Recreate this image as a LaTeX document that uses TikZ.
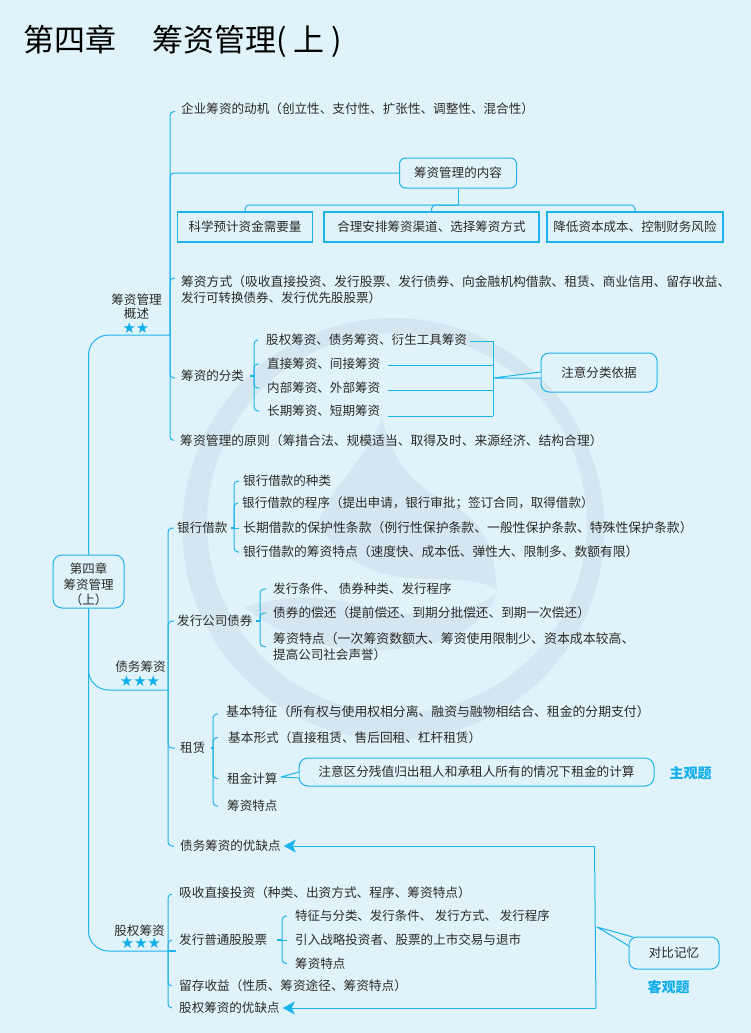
\documentclass[tikz,border=0pt]{standalone}
\usepackage{fontspec}
\setmainfont{Noto Sans CJK SC}
\newfontfamily\symf{DejaVu Sans}
\usetikzlibrary{arrows.meta,calc}
\definecolor{bg}{HTML}{E0F3FB}
\definecolor{wmk}{HTML}{D4E7F0}
\definecolor{wire}{HTML}{1FB3EC}
\definecolor{ink}{HTML}{2A2A2A}
\definecolor{hl}{HTML}{12AEEB}
\tikzset{
  x=1pt,y=-1pt,
  one/.style={text height=12pt,text depth=2.4pt},
  lab/.style={anchor=west,inner xsep=#1pt,inner ysep=0pt,xshift=-#1pt,text=ink,align=left,
    font=\fontsize{12.55}{16}\selectfont},
  lab/.default=3,
  slab/.style={lab=#1,one},
  wider/.style={font=\fontsize{#1}{16}\selectfont},
  glab/.style={inner sep=0pt,text=ink,align=center,font=\fontsize{12.6}{14}\selectfont},
  stars/.style={inner sep=0pt,text=hl,font=\symf\fontsize{15}{15}\selectfont},
  wirel/.style={draw=wire,line width=1pt,line join=round},
  tickl/.style={wirel,rounded corners=4pt},
  rbox/.style={draw=wire,line width=1pt,rounded corners=#1pt,inner sep=0pt,text=ink,align=center,
    font=\fontsize{12.55}{15.5}\selectfont},
  rbox/.default=6,
  sbox/.style={draw=wire,line width=1.1pt,inner sep=0pt,text=ink,one,font=\fontsize{12.55}{16}\selectfont},
  tagl/.style={inner sep=0pt,text=hl,one,font=\bfseries\fontsize{14}{14}\selectfont},
  arrowl/.style={wirel,-{Stealth[length=12pt,width=13pt,inset=3pt]}}
}
\begin{document}
\begin{tikzpicture}
\useasboundingbox (0,0) rectangle (751,1033);
\fill[bg] (0,0) rectangle (751,1033);
% watermark
\fill[wmk,even odd rule] (393.5,529) circle (211pt) (397,523) circle (190pt);
\fill[wmk] (382,418) .. controls (365,460) and (330,490) .. (318,522)
  .. controls (335,555) and (365,572) .. (400,577)
  .. controls (440,582) and (475,575) .. (497,590)
  .. controls (495,560) and (490,530) .. (460,510)
  .. controls (420,490) and (395,470) .. (382,418) -- cycle;
\fill[wmk] (245,607) .. controls (300,590) and (340,600) .. (380,610)
  .. controls (430,620) and (480,610) .. (497,592)
  .. controls (480,640) and (420,650) .. (370,650)
  .. controls (320,650) and (270,630) .. (245,607) -- cycle;
% title
\node[anchor=west,inner sep=0pt,text=black,text height=27pt,text depth=3.4pt,font=\fontsize{31}{31}\selectfont] (title) at (23,40) {第四章\hspace{36pt}筹资管理( 上 )};
% root
\node[rbox=9,minimum width=71pt,minimum height=53pt,font=\fontsize{12.5}{15.5}\selectfont] (root) at (88.5,581.5) {\rule{0pt}{17pt}第四章\\筹资管理\\（上）};
% junctions
\coordinate (jA) at (170,335);
\coordinate (jB) at (168,690);
\coordinate (jC) at (168,951);
\coordinate (jCend) at (176,951);
% group labels
\node[glab] (gA) at (136.5,307) {筹资管理\\概述};
\node[stars] (sA) at (136,328) {★★};
\node[glab,one] (gB) at (140.5,667) {债务筹资};
\node[stars] (sB) at (140,681) {★★★};
\node[glab,one] (gC) at (139.5,931) {股权筹资};
\node[stars] (sC) at (141,943) {★★★};
% trunk
\draw[wirel,rounded corners=20pt] (root.north) |- (jA);
\draw[wirel,rounded corners=20pt] (root.south) |- (jB);
\draw[wirel,rounded corners=20pt] (root.south) |- (jCend);
\draw[wire,line width=1.8pt] (jC) -- (jCend);
% section A
\node[slab=6,wider=12.6] (a1) at (181,108.5) {企业筹资的动机（创立性、支付性、扩张性、调整性、混合性）};
\node[rbox,one] (a2) at (458,173) [minimum width=117pt,minimum height=30pt] {筹资管理的内容};
\node[sbox,minimum width=135pt,minimum height=30pt] (b1) at (245,227) {科学预计资金需要量};
\node[sbox,minimum width=215pt,minimum height=30pt] (b2) at (431.5,227) {合理安排筹资渠道、选择筹资方式};
\node[sbox,minimum width=176pt,minimum height=30pt] (b3) at (635,227) {降低资本成本、控制财务风险};
\coordinate (bj) at (458,205);
\draw[wirel] (a2.south) -- (bj);
\draw[tickl] (bj) -| (b1.north);
\draw[tickl] (bj) -| (b2.north);
\draw[tickl] (bj) -| (b3.north);
\node[lab=6,wider=12.77,yshift=-1.5pt] (a3) at (181,288) {筹资方式（吸收直接投资、发行股票、发行债券、向金融机构借款、租赁、商业信用、留存收益、\\{\fontsize{12.5}{16}\selectfont 发行可转换债券、发行优先股股票）}};
\node[slab=6] (a4) at (181,376) {筹资的分类};
\node[slab=6,wider=12.8] (a5) at (180,440.5) {筹资管理的原则（筹措合法、规模适当、取得及时、来源经济、结构合理）};
\draw[tickl] ($(a1.west)+(0,3)$) -| (jA);
\coordinate (a2in) at (a2.west);
\draw[tickl] (a2in) -| (jA);
\draw[tickl] ($(a3.west)+(0,-11.5)$) -| (jA);
\draw[tickl] ($(a4.west)+(0,2)$) -| (jA);
\draw[tickl] (a5.west) -| (jA);
% classification
\coordinate (ja4) at (254,376);
\draw[wirel,line width=1.4pt] (a4.east) -- (ja4);
\node[slab=8] (c1) at (266,340) {股权筹资、债务筹资、衍生工具筹资};
\node[slab=8] (c2) at (267,364) {直接筹资、间接筹资};
\node[slab=8] (c3) at (267,388) {内部筹资、外部筹资};
\node[slab=8] (c4) at (267,411) {长期筹资、短期筹资};
\foreach \c in {c1,c2,c3,c4} {\draw[tickl] (\c.west) -| (ja4);}
\coordinate (brk) at (493,378);
\draw[wirel] ($(c1.east)+(-5,1)$) -- ($(brk)+(0,-37)$) -- ($(brk)+(0,38)$);
\draw[wirel] ($(c2.east)+(0,1)$) -- ($(brk)+(0,-13)$);
\draw[wirel] ($(c3.east)+(0,2)$) -- ($(brk)+(0,12)$);
\draw[wirel] ($(c4.east)+(0,5)$) -- ($(brk)+(0,38)$);
\node[rbox=8,one,minimum width=116pt,minimum height=39pt] (n1) at (599,372.5) {注意分类依据};
\coordinate (n1a) at (541,372);
\coordinate (n1b) at (541,378);
\fill[bg] (brk) -- (n1a) -- (n1b) -- cycle;
\draw[wirel] (n1a) -- (brk) -- (n1b);
% section B
\node[slab=3] (d1) at (177,528) {银行借款};
\node[slab=3] (d2) at (177,621) {发行公司债券};
\node[slab=5] (d3) at (180,748) {租赁};
\node[slab=6] (d4) at (180,846) {债务筹资的优缺点};
\foreach \c in {d1,d2,d3,d4} {\draw[tickl] (\c.west) -| (jB);}
\coordinate (jd1) at (234,528);
\draw[wirel,line width=1.4pt] (d1.east) -- (jd1);
\node[slab=4] (e1) at (243,481) {银行借款的种类};
\node[slab=4] (e2) at (242,503) {银行借款的程序（提出申请，银行审批；签订合同，取得借款）};
\node[slab=4,wider=12.84] (e3) at (243,528) {长期借款的保护性条款（例行性保护条款、一般性保护条款、特殊性保护条款）};
\node[slab=4,wider=12.75] (e4) at (243,552) {银行借款的筹资特点（速度快、成本低、弹性大、限制多、数额有限）};
\draw[tickl] (e1.west) -| (jd1);
\draw[tickl] (e2.west) -| (jd1);
\draw[wirel] (jd1) -- (e3.west);
\draw[tickl] (e4.west) -| (jd1);
\coordinate (jd2) at (260,621);
\draw[wirel,line width=1.4pt] (d2.east) -- (jd2);
\node[slab=7] (f1) at (273,589) {发行条件、 债券种类、发行程序};
\node[slab=7,wider=12.67] (f2) at (273,613) {债券的偿还（提前偿还、到期分批偿还、到期一次偿还）};
\node[lab=7,yshift=-1.5pt,wider=12.9] (f3) at (273,645) {筹资特点（一次筹资数额大、筹资使用限制少、资本成本较高、\\{\fontsize{12.55}{16}\selectfont 提高公司社会声誉）}};
\foreach \c in {f1,f2,f3} {\draw[tickl] (\c.west) -| (jd2);}
\coordinate (jd3) at (213,748);
\draw[wirel,line width=1.4pt] (d3.east) -- (jd3);
\node[slab=8,wider=12.83] (g1) at (226,712) {基本特征（所有权与使用权相分离、融资与融物相结合、租金的分期支付）};
\node[slab=10,wider=12.65] (g2) at (228,737.5) {基本形式（直接租赁、售后回租、杠杆租赁）};
\node[slab=9] (g3) at (227,778.5) {租金计算};
\node[slab=9] (g4) at (227,806) {筹资特点};
\draw[tickl] ($(g1.west)+(0,2)$) -| (jd3);
\foreach \c in {g2,g3,g4} {\draw[tickl] (\c.west) -| (jd3);}
\node[rbox=9,one,minimum width=355pt,minimum height=28pt,font=\fontsize{12.65}{15.5}\selectfont] (n2) at (476.5,772) {注意区分残值归出租人和承租人所有的情况下租金的计算};
\coordinate (n2t) at (281,777);
\coordinate (n2a) at (299,772);
\coordinate (n2b) at (299,778);
\fill[bg] (n2t) -- (n2a) -- (n2b) -- cycle;
\draw[wirel] (n2a) -- (n2t) -- (n2b);
\node[tagl] (t1) at (690.5,773.5) {主观题};
% section C
\node[slab=7,wider=12.68] (h1) at (179,892.5) {吸收直接投资（种类、出资方式、程序、筹资特点）};
\node[slab=7] (h2) at (179,940) {发行普通股股票};
\node[slab=7,wider=12.65] (h3) at (179,986) {留存收益（性质、筹资途径、筹资特点）};
\node[slab=7] (h4) at (179,1008) {股权筹资的优缺点};
\draw[tickl] ($(h1.west)+(0,1.5)$) -| (jC);
\foreach \c in {h2,h3,h4} {\draw[tickl] (\c.west) -| (jC);}
\coordinate (jh2) at (282,940);
\draw[wirel,line width=1.4pt] ($(h2.east)+(3,0)$) -- (jh2);
\node[slab=8,wider=12.45] (i1) at (295,916) {特征与分类、发行条件、 发行方式、 发行程序};
\node[slab=8] (i2) at (295,940) {引入战略投资者、股票的上市交易与退市};
\node[slab=8] (i3) at (295,963.5) {筹资特点};
\draw[tickl] (i1.west) -| (jh2);
\draw[wirel] (jh2) -- (i2.west);
\draw[tickl] (i3.west) -| (jh2);
% comparison arrows
\coordinate (cT) at (594.5,846);
\coordinate (cB) at (596,1008);
\draw[arrowl] (cT) -- ($(d4.east)+(-3,0)$);
\draw[arrowl] (cB) -- ($(h4.east)+(-4,0)$);
\draw[wirel] (cT) -- (cB);
\node[rbox=8,one,minimum width=90pt,minimum height=32pt] (n3) at (674,953) {对比记忆};
\coordinate (n3t) at (597,927);
\coordinate (n3a) at (633,937);
\coordinate (n3b) at (629,946);
\fill[bg] (n3t) -- (n3a) -- (n3a-|n3b) -- (n3b) -- cycle;
\draw[wirel] (n3a) -- (n3t) -- (n3b);
\node[tagl] (t2) at (668.5,988) {客观题};
\end{tikzpicture}
\end{document}
